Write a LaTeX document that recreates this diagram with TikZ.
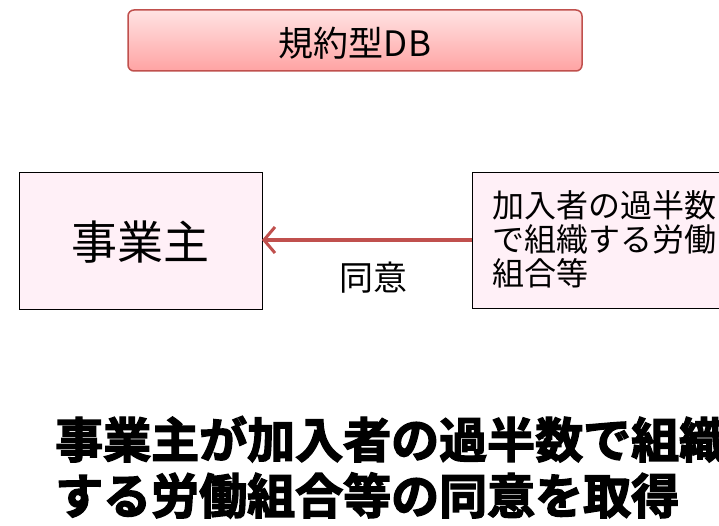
\documentclass[tikz,border=0pt]{standalone}
\usepackage{fontspec}
\setmainfont{Noto Sans CJK JP}
\newfontfamily\jpfont{Noto Sans CJK JP}
\newfontfamily\jpheavy{Noto Sans CJK JP Bold}[FakeBold=3]
\usetikzlibrary{arrows.meta}
\definecolor{boxred}{HTML}{C0504D}
\definecolor{pinktop}{HTML}{FFE3E3}
\definecolor{pinkbot}{HTML}{FFA3A3}
\definecolor{lightpink}{HTML}{FFF0F7}
\tikzset{
  titlebox/.style={draw=boxred, line width=1.5pt, rounded corners=6pt, top color=pinktop, bottom color=pinkbot},
  partybox/.style={draw=black, line width=1pt, fill=lightpink},
  consent/.style={draw=boxred, line width=3.5pt, -{Straight Barb[length=11pt,width=26pt,line width=3pt]}},
}
\begin{document}
\begin{tikzpicture}[x=1pt,y=-1pt]
\clip (0,0) rectangle (719,526);
\useasboundingbox (0,0) rectangle (719,526);
\fill[white] (0,0) rectangle (719,526);
% title
\draw[titlebox] (128,10) rectangle (582,71);
\node[font=\jpfont\fontsize{35}{38}\selectfont] (title) at (355,43) {規約型DB};
% boxes
\draw[partybox] (19,173) rectangle (262,309);
\coordinate (empR) at (262,240);
\node[font=\jpfont\fontsize{46}{50}\selectfont] (emp) at (140,242) {事業主};
\draw[partybox] (472,173) rectangle (740,308);
\coordinate (unionL) at (472,240);
\node[font=\jpfont\fontsize{32}{34}\selectfont, anchor=north west, align=left, inner sep=0pt] (union) at (492,190) {加入者の過半数\\で組織する労働\\組合等};
% arrow
\draw[consent] (unionL) -- (empR);
\node[font=\jpfont\fontsize{34}{36}\selectfont] (agree) at (373,278) {同意};
% bottom statement
\node[font=\jpheavy\fontsize{48}{56}\selectfont, anchor=north west, align=left, inner sep=0pt] (stmt) at (55,416) {事業主が加入者の過半数で組織\\する労働組合等の同意を取得};
\end{tikzpicture}
\end{document}
